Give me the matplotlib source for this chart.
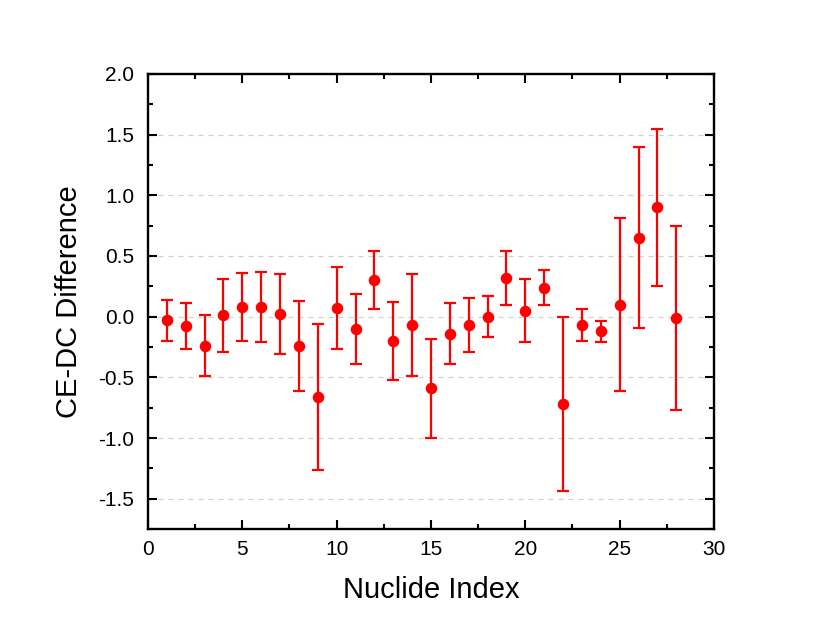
import matplotlib
matplotlib.use("Agg")
import matplotlib.pyplot as plt
from matplotlib.ticker import MultipleLocator

plt.rcParams['font.family'] = ['Liberation Sans', 'DejaVu Sans']
plt.rcParams['axes.unicode_minus'] = False

# data
nuclide_index = list(range(1, 29))
ce_dc_diff = [-0.03, -0.08, -0.24, 0.01, 0.08, 0.08, 0.02, -0.24, -0.66, 0.07,
              -0.10, 0.30, -0.20, -0.07, -0.59, -0.14, -0.07, 0.00, 0.32, 0.05,
              0.24, -0.72, -0.07, -0.12, 0.10, 0.65, 0.90, -0.01]
diff_err = [0.17, 0.19, 0.25, 0.30, 0.28, 0.29, 0.33, 0.37, 0.60, 0.34,
            0.29, 0.24, 0.32, 0.42, 0.41, 0.25, 0.22, 0.17, 0.22, 0.26,
            0.145, 0.72, 0.13, 0.085, 0.71, 0.745, 0.645, 0.76]

fig = plt.figure(figsize=(8.3, 6.35), dpi=100)
ax = fig.add_axes([0.1783, 0.1669, 0.6819, 0.7166])

ax.errorbar(nuclide_index, ce_dc_diff, yerr=diff_err, fmt='o', color='red',
            markersize=7.3, elinewidth=1.6, capsize=4, capthick=1.6, zorder=3)

ax.set_xlim(0, 30)
ax.set_ylim(-1.75, 2.0)
ax.xaxis.set_major_locator(MultipleLocator(5))
ax.xaxis.set_minor_locator(MultipleLocator(2.5))
ax.yaxis.set_major_locator(MultipleLocator(0.5))
ax.yaxis.set_minor_locator(MultipleLocator(0.25))

ax.grid(axis='y', which='major', linestyle=(0, (4, 4)), color='#d0d0d0', linewidth=0.9, zorder=0)
ax.set_axisbelow(True)

ax.tick_params(which='both', direction='in', top=True, right=True, width=1.5,
               labelsize=15)
ax.tick_params(axis='x', pad=8)
ax.tick_params(axis='y', pad=10)
ax.tick_params(which='major', length=6.5)
ax.tick_params(which='minor', length=3.5)
for s in ax.spines.values():
    s.set_linewidth(1.7)

ax.set_xlabel('Nuclide Index', fontsize=21)
ax.set_ylabel('CE-DC Difference', fontsize=21)
ax.xaxis.set_label_coords(0.5, -0.103)
ax.yaxis.set_label_coords(-0.115, 0.5)

fig.savefig("out.png", dpi=100)
